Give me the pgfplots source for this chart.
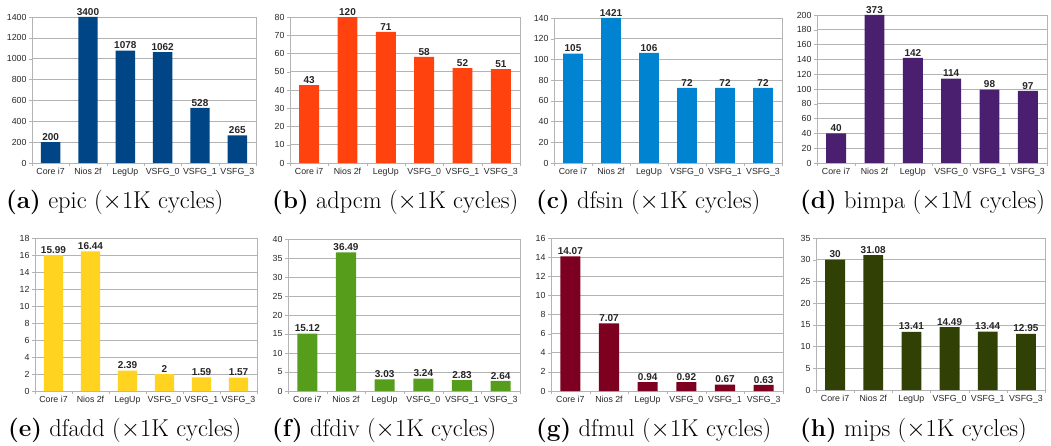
\documentclass[border=0pt]{standalone}
\usepackage{fontspec}
\setsansfont{Liberation Sans}
\usepackage{pgfplots}
\usepackage{pgfplotstable}
\pgfplotsset{compat=1.18}

\definecolor{cA}{HTML}{004586}
\definecolor{cB}{HTML}{FF420E}
\definecolor{cC}{HTML}{0084D1}
\definecolor{cD}{HTML}{4B1F6F}
\definecolor{cE}{HTML}{FFD320}
\definecolor{cF}{HTML}{579D1C}
\definecolor{cG}{HTML}{7E0021}
\definecolor{cH}{HTML}{314004}
\definecolor{gridc}{HTML}{B3B3B3}

% x: category, v: bar value, lab: printed label
\pgfplotstableread{
x v lab
0 200 200
1 3400 3400
2 1078 1078
3 1062 1062
4 528 528
5 265 265
}\tA
\pgfplotstableread{
x v lab
0 42.7 43
1 120 120
2 71.8 71
3 58.1 58
4 52.0 52
5 51.4 51
}\tB
\pgfplotstableread{
x v lab
0 105.5 105
1 1421 1421
2 106.4 106
3 72.5 72
4 72.5 72
5 72.5 72
}\tC
\pgfplotstableread{
x v lab
0 40 40
1 373 373
2 142 142
3 114 114
4 99 98
5 97.5 97
}\tD
\pgfplotstableread{
x v lab
0 15.99 15.99
1 16.44 16.44
2 2.39 2.39
3 2 2
4 1.59 1.59
5 1.57 1.57
}\tE
\pgfplotstableread{
x v lab
0 15.12 15.12
1 36.49 36.49
2 3.03 3.03
3 3.24 3.24
4 2.83 2.83
5 2.64 2.64
}\tF
\pgfplotstableread{
x v lab
0 14.07 14.07
1 7.07 7.07
2 0.94 0.94
3 0.92 0.92
4 0.67 0.67
5 0.63 0.63
}\tG
\pgfplotstableread{
x v lab
0 30 30
1 31.08 31.08
2 13.41 13.41
3 14.49 14.49
4 13.44 13.44
5 12.95 12.95
}\tH

\pgfplotsset{
  vsfg/.style={
    scale only axis, anchor=south west,
    ybar, bar width=0.52,
    xmin=-0.5, xmax=5.5, ymin=0,
    xtick={0,...,5},
    xticklabels={Core i7, Nios 2f, LegUp, VSFG\_0, VSFG\_1, VSFG\_3},
    minor xtick={-0.5,0.5,...,5.5},
    major x tick style={draw=none},
    minor x tick style={gridc},
    y tick style={gridc},
    major tick length=3pt, minor tick length=3pt,
    tick align=outside, tick pos=left,
    ymajorgrids, grid style={gridc, line width=0.6pt},
    axis line style={gridc, line width=0.6pt},
    tick label style={font=\sffamily\fontsize{8.8}{10}\selectfont, text=black!85},
    /pgf/number format/assume math mode=true,
    /pgf/number format/1000 sep={},
    xticklabel style={yshift=1pt},
    yticklabel style={xshift=1pt},
    nodes near coords,
    point meta=explicit symbolic,
    nodes near coords style={font=\sffamily\bfseries\fontsize{10}{12}\selectfont, text=black!85, inner sep=1.5pt},
    clip=false,
  },
}

\newcommand{\capt}[1]{\fontsize{24.4}{28}\selectfont #1}

\begin{document}
\begin{tikzpicture}
\useasboundingbox (0pt,0pt) rectangle (1051pt,-446pt);

% ---------- row 1 ----------
\begin{axis}[vsfg, at={(32pt,-163pt)}, width=224pt, height=146pt, ymax=1400, ytick={0,200,...,1400}]
\addplot[fill=cA, draw=none] table[x=x, y expr={min(\thisrow{v},1400)}, meta=lab]{\tA};
\end{axis}
\begin{axis}[vsfg, at={(290pt,-163pt)}, width=230pt, height=146pt, ymax=80, ytick={0,10,...,80}]
\addplot[fill=cB, draw=none] table[x=x, y expr={min(\thisrow{v},80)}, meta=lab]{\tB};
\end{axis}
\begin{axis}[vsfg, at={(554pt,-163pt)}, width=228pt, height=145pt, ymax=140, ytick={0,20,...,140}]
\addplot[fill=cC, draw=none] table[x=x, y expr={min(\thisrow{v},140)}, meta=lab]{\tC};
\end{axis}
\begin{axis}[vsfg, at={(817pt,-163pt)}, width=230pt, height=148pt, ymax=200, ytick={0,20,...,200}]
\addplot[fill=cD, draw=none] table[x=x, y expr={min(\thisrow{v},200)}, meta=lab]{\tD};
\end{axis}

% ---------- row 2 ----------
\begin{axis}[vsfg, at={(35pt,-391pt)}, width=222pt, height=153pt, ymax=18, ytick={0,2,...,18}]
\addplot[fill=cE, draw=none] table[x=x, y expr={min(\thisrow{v},18)}, meta=lab]{\tE};
\end{axis}
\begin{axis}[vsfg, at={(288pt,-391pt)}, width=232pt, height=152pt, ymax=40, ytick={0,5,...,40}]
\addplot[fill=cF, draw=none] table[x=x, y expr={min(\thisrow{v},40)}, meta=lab]{\tF};
\end{axis}
\begin{axis}[vsfg, at={(551pt,-391pt)}, width=232pt, height=153pt, ymax=16, ytick={0,2,...,16}]
\addplot[fill=cG, draw=none] table[x=x, y expr={min(\thisrow{v},16)}, meta=lab]{\tG};
\end{axis}
\begin{axis}[vsfg, at={(816pt,-390pt)}, width=229pt, height=152pt, ymax=35, ytick={0,5,...,35}]
\addplot[fill=cH, draw=none] table[x=x, y expr={min(\thisrow{v},35)}, meta=lab]{\tH};
\end{axis}

% ---------- captions ----------
\node[anchor=base west, inner sep=0pt] at (6pt,-209pt) {\capt{\textbf{(a)} epic ($\times$1K cycles)}};
\node[anchor=base west, inner sep=0pt] at (272pt,-209pt) {\capt{\textbf{(b)} adpcm ($\times$1K cycles)}};
\node[anchor=base west, inner sep=0pt] at (536pt,-209pt) {\capt{\textbf{(c)} dfsin ($\times$1K cycles)}};
\node[anchor=base west, inner sep=0pt] at (800pt,-209pt) {\capt{\textbf{(d)} bimpa ($\times$1M cycles)}};
\node[anchor=base west, inner sep=0pt] at (8pt,-436pt) {\capt{\textbf{(e)} dfadd ($\times$1K cycles)}};
\node[anchor=base west, inner sep=0pt] at (272pt,-436pt) {\capt{\textbf{(f)} dfdiv ($\times$1K cycles)}};
\node[anchor=base west, inner sep=0pt] at (536pt,-436pt) {\capt{\textbf{(g)} dfmul ($\times$1K cycles)}};
\node[anchor=base west, inner sep=0pt] at (800pt,-436pt) {\capt{\textbf{(h)} mips ($\times$1K cycles)}};
\end{tikzpicture}
\end{document}
